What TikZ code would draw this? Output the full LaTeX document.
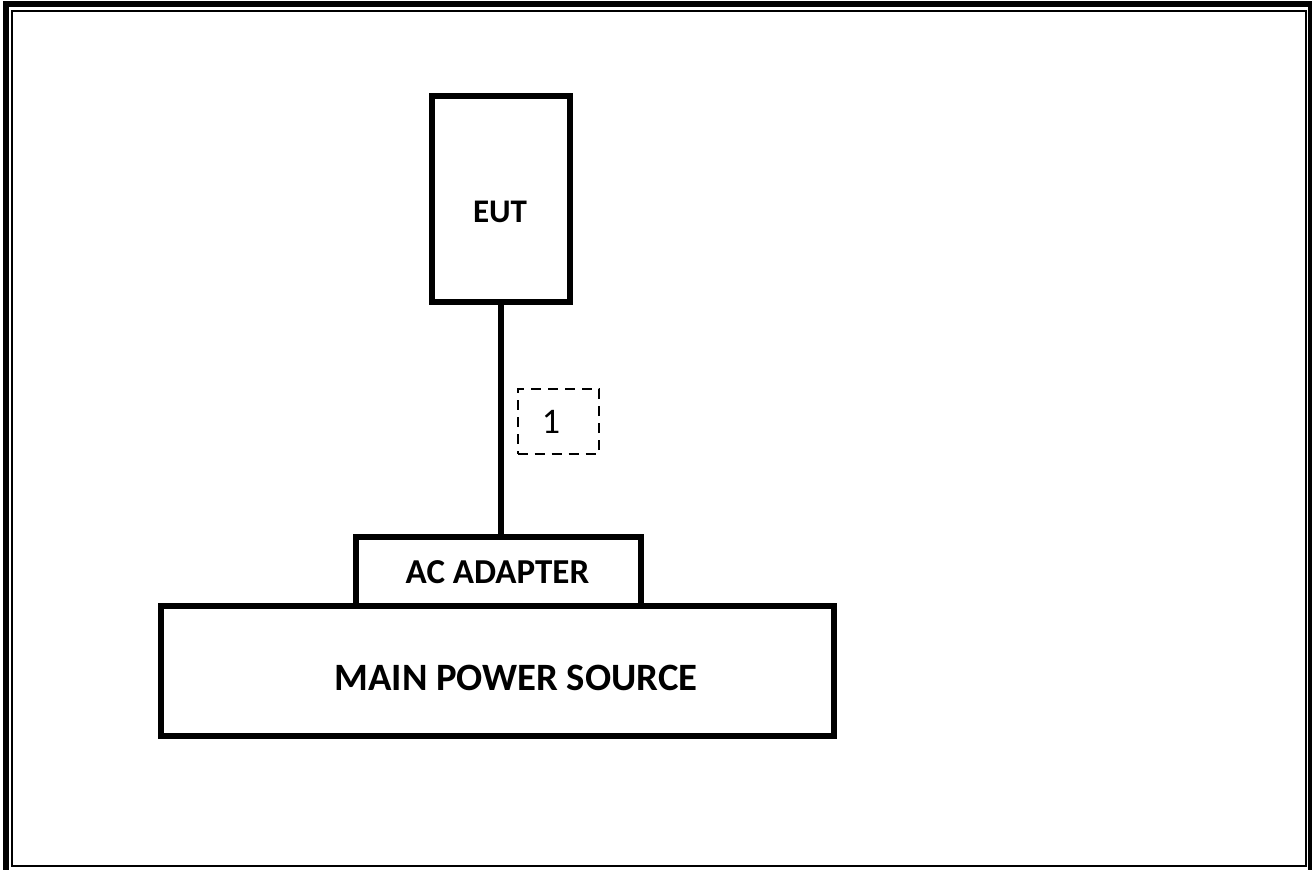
\documentclass[tikz,border=0pt]{standalone}
\usepackage{fontspec}
\setmainfont{Carlito}
\begin{document}
\begin{tikzpicture}[x=1pt,y=-1pt,
  blk/.style={draw=black,line width=6pt,rectangle,inner sep=0pt,fill=white},
  lbl/.style={inner sep=0pt,font=\bfseries\fontsize{33}{36}\selectfont},
  num/.style={inner sep=0pt,font=\fontsize{36}{40}\selectfont},
  tag/.style={draw=black,line width=2pt,dash pattern=on 10pt off 7pt,rectangle,inner sep=0pt}]
\useasboundingbox (0,0) rectangle (1312,870);
\begin{scope}
\clip (0,0) rectangle (1312,870);
\draw[line width=5.5pt] (5.8,4.2) rectangle (1310.8,876);
\draw[line width=2.5pt] (12,11) rectangle (1306,866);
\end{scope}
\node[blk,minimum width=138pt,minimum height=206pt] (eut) at (501,199) {};
\node[blk,minimum width=673pt,minimum height=130pt] (mps) at (497.5,671) {};
\node[blk,minimum width=285pt,minimum height=69pt] (ac) at (498.5,571.5) {};
\draw[line width=6pt] (eut.south) -- (eut.south |- ac.north);
\node[tag,minimum width=81pt,minimum height=65pt] (c1) at (558,421.5) {};
\node[lbl] (teut) at (500,212) {EUT};
\node[lbl,font=\bfseries\fontsize{35}{38}\selectfont] (tac) at (497.5,572.5) {AC ADAPTER};
\node[lbl,font=\bfseries\fontsize{38.7}{42}\selectfont] (tmps) at (516,678) {MAIN POWER SOURCE};
\node[num] (t1) at (551,422) {1};
\end{tikzpicture}
\end{document}
